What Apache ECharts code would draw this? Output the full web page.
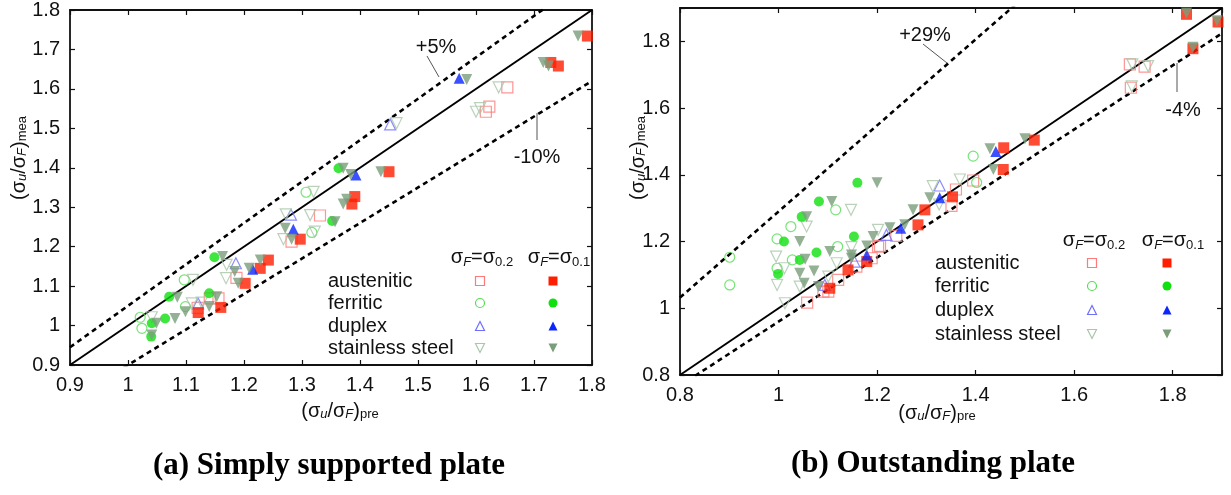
<!DOCTYPE html>
<html>
<head>
<meta charset="utf-8">
<script src="https://cdn.jsdelivr.net/npm/echarts@6/dist/echarts.min.js"></script>
<style>
html, body { margin: 0; padding: 0; background: #fff; }
#main { width: 1231px; height: 495px; }
</style>
</head>
<body>
<div id="main"></div>
<script>
var myChart = echarts.init(document.getElementById('main'));

// categories / legend
var materials = ['austenitic', 'ferritic', 'duplex', 'stainless steel'];
var symbols = ['rect', 'circle', 'triangle', 'triangle'];
var rotates = [0, 0, 0, 180];
var sizes = [11, 10, 11, 11];
var colFilled = ['#ff1e00', '#10e010', '#0a26ff', '#7a9e7a'];
var colHollow = ['#ff7a7a', '#55dd55', '#6f6fff', '#a9c6a9'];

// reference lines (ratio of measured to predicted)
var ratiosA = [1, 1.05, 0.9];
var ratiosB = [1, 1.29, 0.96];

// ---- (a) simply supported plate, [pre, mea] ----
var aAust02 = [[1.141,1.069],[1.156,1.069],[1.120,1.045],[1.187,1.121],[1.282,1.213],[1.331,1.279],[1.617,1.542],[1.623,1.555],[1.654,1.604]];
var aAust01 = [[1.121,1.033],[1.160,1.046],[1.202,1.107],[1.228,1.145],[1.242,1.166],[1.297,1.219],[1.386,1.308],[1.391,1.327],[1.450,1.390],[1.729,1.667],[1.742,1.658],[1.792,1.734]];
var aFerr02 = [[1.021,1.021],[1.024,0.993],[1.097,1.116],[1.099,1.048],[1.307,1.338],[1.317,1.236]];
var aFerr01 = [[1.041,1.006],[1.040,0.972],[1.064,1.018],[1.071,1.073],[1.140,1.082],[1.149,1.173],[1.352,1.265],[1.363,1.399]];
var aDupl02 = [[1.121,1.056],[1.186,1.158],[1.281,1.281],[1.452,1.510]];
var aDupl01 = [[1.215,1.143],[1.285,1.244],[1.393,1.382],[1.571,1.627]];
var aStai02 = [[1.041,1.021],[1.112,1.116],[1.110,1.056],[1.127,1.058],[1.169,1.120],[1.170,1.154],[1.272,1.282],[1.268,1.219],[1.314,1.280],[1.320,1.339],[1.322,1.238],[1.463,1.513],[1.607,1.551],[1.600,1.542],[1.639,1.604]];
var aStai01 = [[1.041,0.976],[1.049,1.006],[1.081,1.018],[1.085,1.072],[1.099,1.035],[1.140,1.048],[1.153,1.073],[1.163,1.175],[1.184,1.137],[1.190,1.107],[1.209,1.145],[1.228,1.166],[1.271,1.247],[1.282,1.219],[1.357,1.263],[1.371,1.308],[1.377,1.320],[1.371,1.399],[1.384,1.383],[1.436,1.390],[1.584,1.624],[1.716,1.667],[1.725,1.658],[1.776,1.734]];

// ---- (b) outstanding plate ----
var bAust02 = [[1.058,1.017],[1.091,1.050],[1.101,1.050],[1.121,1.085],[1.158,1.125],[1.189,1.150],[1.202,1.185],[1.206,1.187],[1.239,1.217],[1.351,1.307],[1.360,1.356],[1.395,1.383],[1.713,1.731],[1.743,1.724],[1.715,1.661]];
var bAust01 = [[1.104,1.060],[1.141,1.115],[1.179,1.140],[1.283,1.250],[1.297,1.295],[1.353,1.334],[1.457,1.481],[1.456,1.416],[1.519,1.504],[1.828,1.881],[1.892,1.858],[1.841,1.778]];
var bFerr02 = [[0.901,1.153],[0.901,1.070],[0.997,1.208],[1.025,1.245],[1.028,1.145],[0.997,1.120],[1.116,1.295],[1.120,1.185],[1.395,1.456],[1.402,1.377]];
var bFerr01 = [[0.999,1.103],[1.011,1.200],[1.043,1.145],[1.047,1.274],[1.077,1.167],[1.082,1.320],[1.153,1.215],[1.160,1.376]];
var bDupl02 = [[1.094,1.070],[1.154,1.140],[1.219,1.220],[1.327,1.368]];
var bDupl01 = [[1.179,1.160],[1.248,1.240],[1.327,1.331],[1.441,1.470]];
var bStai02 = [[0.995,1.155],[0.997,1.070],[1.012,1.120],[1.013,1.015],[1.043,1.065],[1.057,1.245],[1.101,1.095],[1.118,1.135],[1.147,1.295],[1.148,1.183],[1.202,1.235],[1.313,1.366],[1.326,1.311],[1.368,1.386],[1.718,1.731],[1.750,1.726],[1.717,1.665]];
var bStai01 = [[1.043,1.105],[1.043,1.200],[1.052,1.075],[1.054,1.147],[1.057,1.274],[1.072,1.112],[1.081,1.065],[1.104,1.170],[1.108,1.320],[1.148,1.160],[1.148,1.150],[1.179,1.187],[1.192,1.215],[1.200,1.376],[1.226,1.241],[1.256,1.250],[1.273,1.295],[1.307,1.331],[1.429,1.478],[1.436,1.416],[1.500,1.508],[1.828,1.885],[1.890,1.862],[1.841,1.782]];

var panelA = [[aAust02, aAust01], [aFerr02, aFerr01], [aDupl02, aDupl01], [aStai02, aStai01]];
var panelB = [[bAust02, bAust01], [bFerr02, bFerr01], [bDupl02, bDupl01], [bStai02, bStai01]];

var rangeA = [0.9, 1.8];
var rangeB = [0.8, 1.9];

var fontSans = 'Liberation Sans';
var fmt = function (v) { return v > 1.85 ? '' : String(Number(v.toFixed(1))); };

function axes(range, step, grid, pos, labels) {
	return {
		type: 'value',
		gridIndex: grid,
		position: pos,
		min: range[0],
		max: range[1],
		interval: step,
		axisLine: { show: true, onZero: false, lineStyle: { color: '#111', width: 1.8 } },
		axisTick: { show: true, inside: true, length: 5, lineStyle: { color: '#111', width: 1.2 } },
		axisLabel: { show: labels, formatter: fmt, color: '#111', fontSize: 20, fontFamily: fontSans, margin: 10 },
		splitLine: { show: false }
	};
}

var series = [];
function addLines(ratios, range, idx) {
	for (let i = 0; i < ratios.length; i++) {
		series.push({
			type: 'line',
			xAxisIndex: idx * 2,
			yAxisIndex: idx * 2,
			data: [[range[0], range[0] * ratios[i]], [range[1], range[1] * ratios[i]]],
			symbol: 'none',
			silent: true,
			clip: true,
			z: 1,
			lineStyle: i == 0 ? { color: '#000', width: 2 } : { color: '#000', width: 2.6, type: [5, 4] }
		});
	}
}
function addPoints(panel, idx) {
	for (let i = 0; i < materials.length; i++) {
		// sigmaF = sigma0.2 (hollow), sigmaF = sigma0.1 (filled)
		series.push({
			type: 'scatter',
			name: materials[i] + ' 0.2',
			xAxisIndex: idx * 2,
			yAxisIndex: idx * 2,
			data: panel[i][0],
			symbol: symbols[i],
			symbolRotate: rotates[i],
			symbolSize: sizes[i],
			z: 3,
			itemStyle: { color: 'rgba(255,255,255,0)', borderColor: colHollow[i], borderWidth: 1.2 }
		});
		series.push({
			type: 'scatter',
			name: materials[i] + ' 0.1',
			xAxisIndex: idx * 2,
			yAxisIndex: idx * 2,
			data: panel[i][1],
			symbol: symbols[i],
			symbolRotate: rotates[i],
			symbolSize: sizes[i],
			z: 4,
			itemStyle: { color: colFilled[i] }
		});
	}
}
addLines(ratiosA, rangeA, 0);
addLines(ratiosB, rangeB, 1);
addPoints(panelA, 0);
addPoints(panelB, 1);

// legend and text drawn with graphic
var txt = { fill: '#111', fontSize: 20, fontFamily: fontSans };
var sigmaRich = {
	i: { fontSize: 13, fontStyle: 'italic', fontFamily: fontSans, verticalAlign: 'bottom', lineHeight: 17 },
	s: { fontSize: 13, fontFamily: fontSans, verticalAlign: 'bottom', lineHeight: 17 },
	n: { fontSize: 20, fontFamily: fontSans, lineHeight: 23 }
};
var graphics = [];
function addText(str, x, y, opts) {
	graphics.push(Object.assign({
		type: 'text', x: x, y: y,
		style: Object.assign({ text: str, textAlign: 'center', textVerticalAlign: 'middle' }, txt, opts || {})
	}));
}
function addRich(str, x, y, rot, size) {
	graphics.push({
		type: 'text', x: x, y: y, rotation: rot || 0,
		style: { text: str, rich: sigmaRich, fill: '#111', fontSize: size || 20, fontFamily: fontSans, textAlign: 'center', textVerticalAlign: 'middle' }
	});
}
function addLeader(x1, y1, x2, y2) {
	graphics.push({ type: 'line', shape: { x1: x1, y1: y1, x2: x2, y2: y2 }, style: { stroke: '#555', lineWidth: 1 } });
}
function legendSymbol(i, filled, cx, cy) {
	var st = filled ? { fill: colFilled[i], stroke: null } : { fill: 'rgba(0,0,0,0)', stroke: colHollow[i], lineWidth: 1.2 };
	var r = 4.5;
	if (i == 0) graphics.push({ type: 'rect', shape: { x: cx - r, y: cy - r, width: 2 * r, height: 2 * r }, style: st });
	else if (i == 1) graphics.push({ type: 'circle', shape: { cx: cx, cy: cy, r: r }, style: st });
	else if (i == 2) graphics.push({ type: 'polygon', shape: { points: [[cx, cy - r], [cx + r, cy + r], [cx - r, cy + r]] }, style: st });
	else graphics.push({ type: 'polygon', shape: { points: [[cx - r, cy - r], [cx + r, cy - r], [cx, cy + r]] }, style: st });
}
function addLegend(textX, col1, col2, headY, rowsY) {
	addRich('{n|σ}{i|F}{n|=σ}{s|0.2}', col1 + 2, headY);
	addRich('{n|σ}{i|F}{n|=σ}{s|0.1}', col2 + 6, headY);
	for (let i = 0; i < materials.length; i++) {
		addText(materials[i], textX, rowsY[i], { textAlign: 'left' });
		legendSymbol(i, false, col1, rowsY[i]);
		legendSymbol(i, true, col2, rowsY[i]);
	}
}
addLegend(328, 480, 553, 257, [281, 303, 326, 348]);
addLegend(935, 1092, 1167, 240, [263, 286, 310, 334]);

// percentage annotations
addText('+5%', 436, 47);
addLeader(427, 56, 439, 77);
addText('-10%', 537, 157);
addLeader(537, 113, 537, 140);
addText('+29%', 925, 35);
addLeader(923, 44, 947, 63);
addText('-4%', 1183, 110);
addLeader(1177, 63, 1177, 92);

// axis names
addRich('(σ{i|u}/σ{i|F}){s|pre}', 340, 411);
addRich('(σ{i|u}/σ{i|F}){s|pre}', 937, 413);
addRich('(σ{i|u}/σ{i|F}){s|mea}', 19, 158, Math.PI / 2);
addRich('(σ{i|u}/σ{i|F}){s|mea}', 638, 158, Math.PI / 2);

// panel titles
addText('(a) Simply supported plate', 329, 466, { fontSize: 31, fontWeight: 'bold', fontFamily: 'Liberation Serif', fill: '#000' });
addText('(b) Outstanding plate', 933, 464, { fontSize: 31, fontWeight: 'bold', fontFamily: 'Liberation Serif', fill: '#000' });

option = {
	backgroundColor: '#fff',
	animation: false,
	grid: [
		{ left: 70, top: 10, width: 522, height: 355 },
		{ left: 680, top: 8, width: 542, height: 367 }
	],
	xAxis: [
		axes(rangeA, 0.1, 0, 'bottom', true),
		axes(rangeA, 0.1, 0, 'top', false),
		axes(rangeB, 0.2, 1, 'bottom', true),
		axes(rangeB, 0.2, 1, 'top', false)
	],
	yAxis: [
		axes(rangeA, 0.1, 0, 'left', true),
		axes(rangeA, 0.1, 0, 'right', false),
		axes(rangeB, 0.2, 1, 'left', true),
		axes(rangeB, 0.2, 1, 'right', false)
	],
	series: series,
	graphic: graphics
};
myChart.setOption(option);
</script>
</body>
</html>
